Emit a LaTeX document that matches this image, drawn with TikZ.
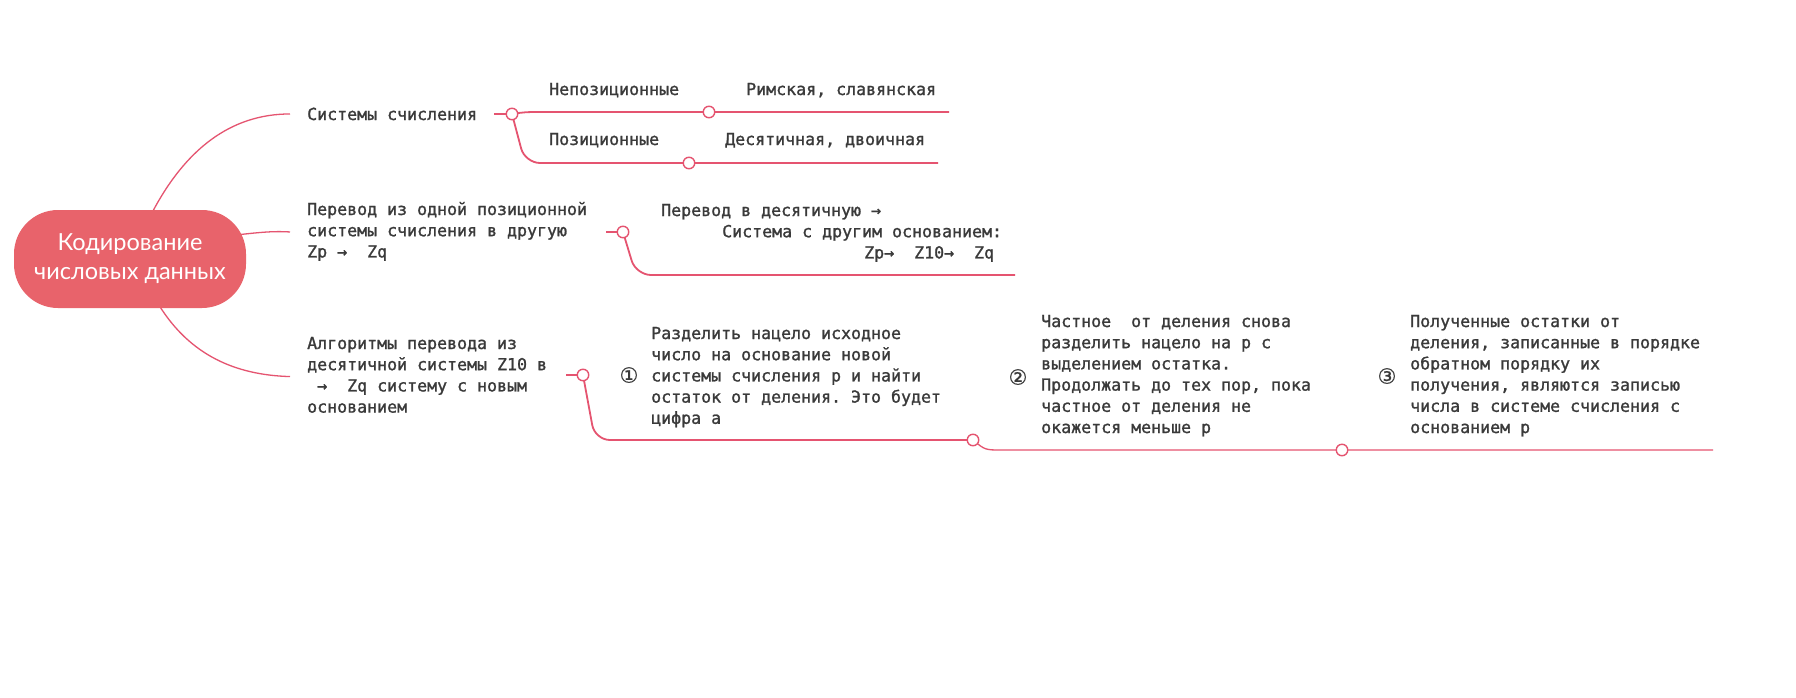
\documentclass[tikz,border=0pt]{standalone}
\usepackage{fontspec}
\setmonofont[FakeBold=1.3]{DejaVu Sans Mono}
\newfontfamily\hubfont{Lato}
\newfontfamily\symfont[FakeBold=0.7]{DejaVu Sans}
\usetikzlibrary{backgrounds}

\definecolor{linec}{RGB}{229,84,112}
\definecolor{nodec}{RGB}{232,99,107}
\definecolor{txtc}{RGB}{58,58,58}

\newcommand\blk[1]{\begin{tabular}[t]{@{}l@{}}#1\end{tabular}}

\begin{document}
\begin{tikzpicture}[x=1pt,y=-1pt,
  mono/.style={font=\ttfamily\fontsize{16.6}{21.2}\selectfont, text=txtc, inner sep=0pt, anchor=base west},
  conn/.style={draw=linec, line width=1.8pt},
  thinconn/.style={draw=linec, line width=1.3pt},
  knob/.style={circle, draw=linec, fill=white, line width=1.4pt, minimum size=11.5pt, inner sep=0pt},
  num/.style={font=\symfont\fontsize{21}{21}\selectfont, text=txtc, inner sep=0pt},
  hub/.style={rounded corners=44pt, fill=nodec, minimum width=232pt, minimum height=98pt,
    text=white, align=center, font=\hubfont\fontsize{23.5}{29}\selectfont, inner sep=0pt},
]
\useasboundingbox (0,0) rectangle (1796,697);

% central node
\node[hub] (cn) at (130,259) {Кодирование\\числовых данных};

% first level texts
\node[mono] (t1) at (307,120) {Системы счисления};
\node[mono] (t2) at (307,215) {\blk{Перевод из одной позиционной\\системы счисления в другую\\Zp →\ \ Zq}};
\node[mono] (t3) at (307,349) {\blk{Алгоритмы перевода из\\десятичной системы Z10 в\\\hspace*{10pt}→\ \ Zq систему с новым\\основанием}};

% second level texts, group 1
\node[mono] (u1) at (549,95) {Непозиционные};
\node[mono] (v1) at (746,95) {Римская, славянская};
\node[mono] (u2) at (549,145) {Позиционные};
\node[mono] (v2) at (725,145) {Десятичная, двоичная};

% group 2
\node[mono] (w1) at (661,216) {\blk{Перевод в десятичную →\\\hspace*{61pt}Система с другим основанием:\\\hspace*{203pt}Zp→\ \ Z10→\ \ Zq}};

% group 3
\node[num] (n1) at (629,375) {①};
\node[mono] (a1) at (651,339) {\blk{Разделить нацело исходное\\число на основание новой\\системы счисления p и найти\\остаток от деления. Это будет\\цифра a}};
\node[num] (n2) at (1018,377) {②};
\node[mono] (a2) at (1041,327) {\blk{Частное\ \ от деления снова\\разделить нацело на p с\\выделением остатка.\\Продолжать до тех пор, пока\\частное от деления не\\окажется меньше p}};
\node[num] (n3) at (1387,376) {③};
\node[mono] (a3) at (1410,327) {\blk{Полученные остатки от\\деления, записанные в порядке\\обратном порядку их\\получения, являются записью\\числа в системе счисления с\\основанием p}};

% knobs
\node[knob] (k1) at (512,114) {};
\node[knob] (k11) at (709,112) {};
\node[knob] (k12) at (689,163) {};
\node[knob] (k2) at (623,232) {};
\node[knob] (k3) at (583,375) {};
\node[knob] (k31) at (973,440) {};
\node[knob] (k32) at (1342,450) {};

% free ends
\coordinate (e11) at (949,112);
\coordinate (e12) at (938,163);
\coordinate (e2) at (1015,275);
\coordinate (e3) at (1713,450);

\begin{scope}[on background layer]
  \fill[white] (0,0) rectangle (1796,697);
  % hub connectors
  \draw[thinconn] ([xshift=22pt,yshift=-3pt]cn.north) .. controls (185,150) and (230,114) .. ([xshift=-17pt]t1.west);
  \draw[thinconn] ([xshift=-10pt,yshift=24pt]cn.east) .. controls (262,232) and (275,231) .. ([xshift=-17pt]t2.west);
  \draw[thinconn] ([xshift=29pt,yshift=3pt]cn.south) .. controls (190,355) and (235,375) .. ([xshift=-17pt]t3.west);
  % group 1
  \draw[conn] ([xshift=17pt]t1.east |- k1.center) -- (k1.center);
  \draw[conn] (k1.center) .. controls (525,112) .. (545,112) -- (k11.center) -- (e11);
  \draw[conn, rounded corners=15pt] (k1.center) -- (525,163) -- (k12.center) -- (e12);
  % group 2
  \draw[conn] ([xshift=19pt]t2.east |- k2.center) -- (k2.center);
  \draw[conn, rounded corners=15pt] (k2.center) -- (636,275) -- (e2);
  % group 3
  \draw[conn] ([xshift=19pt]t3.east |- k3.center) -- (k3.center);
  \draw[conn, rounded corners=15pt] (k3.center) -- (595,440) -- (k31.center);
  \draw[thinconn] (k31.center) .. controls (985,450) .. (1002,450) -- (k32.center) -- (e3);
\end{scope}
\end{tikzpicture}
\end{document}
